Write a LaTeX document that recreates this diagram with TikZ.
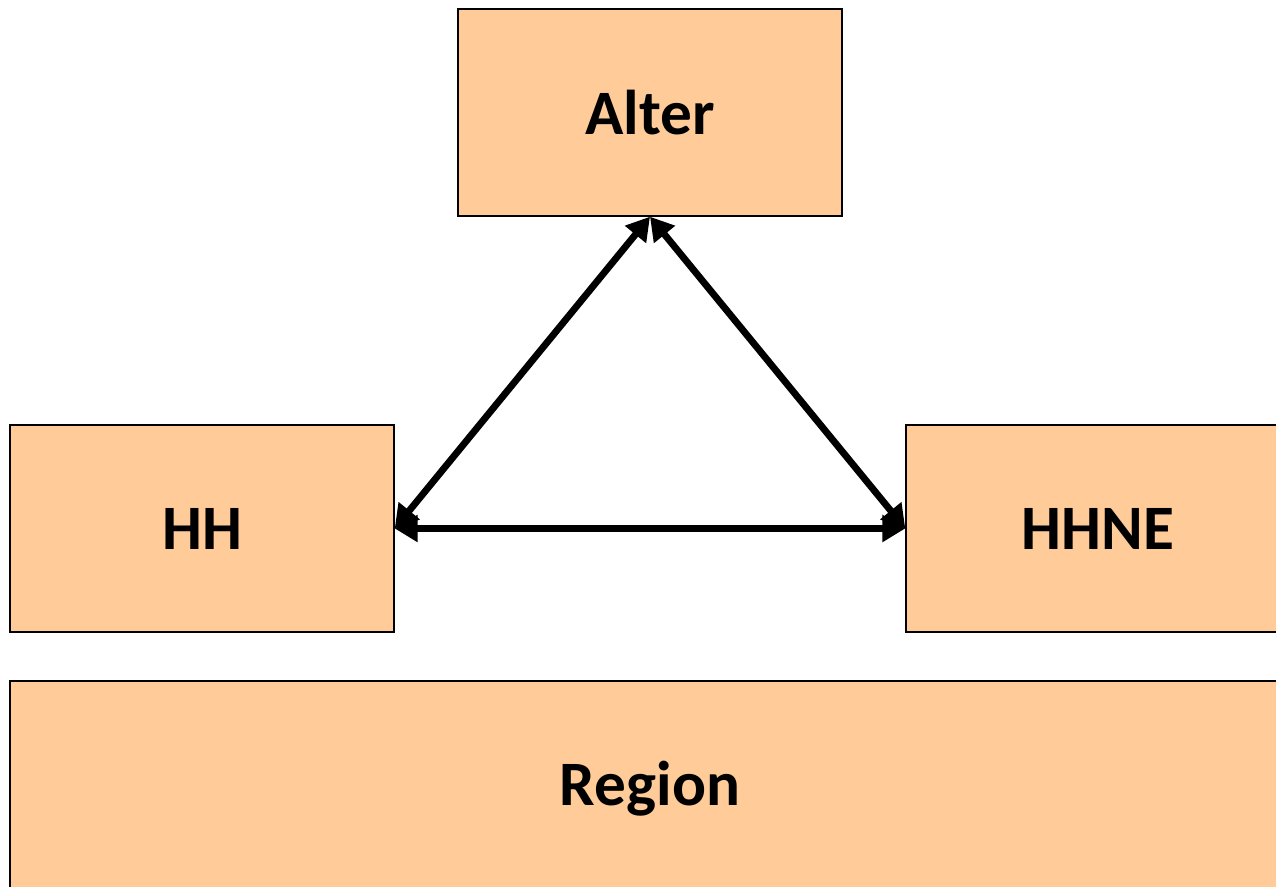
\documentclass[tikz,border=0pt]{standalone}
\usepackage{fontspec}
\setmainfont{Carlito}
\usetikzlibrary{arrows.meta}
\usetikzlibrary{positioning}
\definecolor{boxorange}{RGB}{254,203,153}
\tikzset{
    every node/.style={
        font=\bfseries\fontsize{36}{38}\selectfont},
    factor/.style={
        draw,
        line width=0.8pt,
        fill=boxorange,
        minimum width=7.68cm,
        minimum height=4.14cm},
    every edge/.style={
        draw,
        <->,>={Triangle[length=4.6mm,width=5.2mm]},
        line width=3.9pt}}

\begin{document}
\begin{tikzpicture}
        \useasboundingbox (0,0) rectangle (25.52,17.72);
        \node[factor] (alter) at (13.0,15.47) {Alter};
        \node[factor] (hh) at (4.04,7.15) {HH};
        \node[factor] (hhne) at (21.96,7.15) {HHNE};
        \node[factor, minimum width=25.6cm, minimum height=4.32cm] (region) at (13.0,1.94) {Region};
        
        \draw (alter.south) edge[] (hh.east);
        \draw (alter.south) edge[] (hhne.west);
        \draw (hh.east) edge[] (hhne.west);
    \end{tikzpicture}
\end{document}
